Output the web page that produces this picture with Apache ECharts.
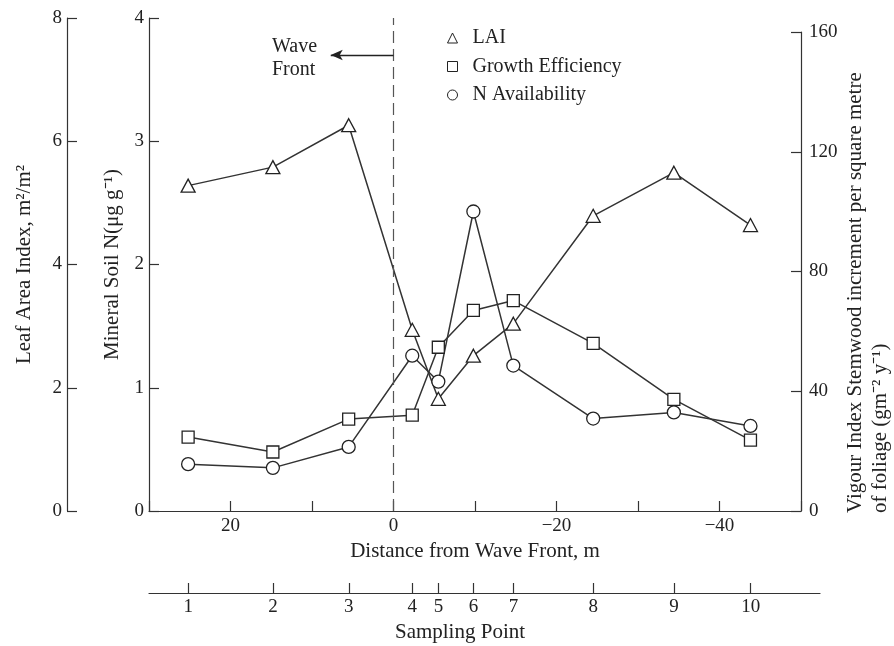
<!DOCTYPE html>
<html><head><meta charset="utf-8">
<script src="https://cdn.jsdelivr.net/npm/echarts@6/dist/echarts.min.js"></script>
<style>html,body{margin:0;padding:0;background:#fff}#c{width:894px;height:646px}</style>
</head><body><div id="c"></div>
<script>
// ---- data ----
const samplingPoints = [1, 2, 3, 4, 5, 6, 7, 8, 9, 10];
const distance = [25.2, 14.8, 5.5, -2.3, -5.5, -9.8, -14.7, -24.5, -34.4, -43.8];
const lai = [5.28, 5.58, 6.26, 2.94, 1.82, 2.52, 3.04, 4.79, 5.49, 4.64];
const growthEfficiency = [24.7, 19.7, 30.7, 32.0, 54.7, 67.0, 70.3, 56.0, 37.3, 23.7];
const nAvailability = [0.38, 0.35, 0.52, 1.26, 1.05, 2.43, 1.18, 0.75, 0.80, 0.69];
const distanceTickLabels = [20, 0, -20, -40];
const waveFrontArrow = { y: 3.70, from: 0, to: 7.7 };

const FONT = '"Liberation Serif", "Times New Roman", serif';
const INK = '#222';
const LINE = '#333';

const pairs = (ys) => distance.map((d, i) => [d, ys[i]]);
const minus = (v) => String(v).replace('-', '\u2212');

const axisLineStyle = { show: true, onZero: false, lineStyle: { color: LINE, width: 1.2 } };
const tickStyle = { inside: true, length: 10, lineStyle: { color: LINE, width: 1.2 } };
const labelStyle = { color: INK, fontFamily: FONT, fontSize: 19 };
const nameStyle = { color: INK, fontFamily: FONT, fontSize: 21 };

const markerStyle = { color: '#fff', borderColor: INK, borderWidth: 1.3 };
const seriesLine = { color: LINE, width: 1.5 };

const chart = echarts.init(document.getElementById('c'), null, { renderer: 'canvas' });
chart.setOption({
  animation: false,
  backgroundColor: '#fff',
  grid: [
    { left: 149, right: 93, top: 18, bottom: 135 },
    { left: 149, right: 93, top: 32, bottom: 135 },
    { left: 149, right: 74, top: 583, bottom: 53 }
  ],
  xAxis: [
    {
      gridIndex: 0, type: 'value', min: -50, max: 30, interval: 10, inverse: true,
      axisLine: axisLineStyle, axisTick: tickStyle, splitLine: { show: false },
      axisLabel: Object.assign({ margin: 6, formatter: (v) => distanceTickLabels.includes(v) ? minus(v) : '' }, labelStyle),
      name: 'Distance from Wave Front, m', nameLocation: 'middle', nameGap: 29, nameTextStyle: nameStyle
    },
    { gridIndex: 1, type: 'value', min: -50, max: 30, inverse: true, show: false },
    {
      gridIndex: 2, type: 'value', min: -52.3, max: 30, inverse: true,
      axisLine: axisLineStyle, splitLine: { show: false },
      axisTick: Object.assign({ customValues: distance }, tickStyle),
      axisLabel: Object.assign({ margin: 5, customValues: distance,
        formatter: (v) => { const i = distance.indexOf(v); return i >= 0 ? String(samplingPoints[i]) : ''; } }, labelStyle),
      name: 'Sampling Point', nameLocation: 'middle', nameGap: 29,
      nameTextStyle: Object.assign({ padding: [0, 49, 0, 0] }, nameStyle)
    }
  ],
  yAxis: [
    {
      gridIndex: 0, type: 'value', position: 'left', offset: 82, min: 0, max: 8, interval: 2,
      axisLine: axisLineStyle, axisTick: tickStyle, splitLine: { show: false },
      axisLabel: Object.assign({ margin: 5 }, labelStyle),
      name: 'Leaf Area Index, m\u00b2/m\u00b2', nameLocation: 'middle', nameGap: 32, nameTextStyle: nameStyle
    },
    {
      gridIndex: 0, type: 'value', position: 'left', min: 0, max: 4, interval: 1,
      axisLine: axisLineStyle, axisTick: tickStyle, splitLine: { show: false },
      axisLabel: Object.assign({ margin: 5 }, labelStyle),
      name: 'Mineral Soil N(\u03bcg g\u207b\u00b9)', nameLocation: 'middle', nameGap: 26, nameTextStyle: nameStyle
    },
    {
      gridIndex: 1, type: 'value', position: 'right', min: 0, max: 160, interval: 40,
      axisLine: axisLineStyle, axisTick: tickStyle, splitLine: { show: false },
      axisLabel: Object.assign({ margin: 8 }, labelStyle)
    },
    { gridIndex: 2, type: 'value', show: false, min: 0, max: 1 }
  ],
  legend: {
    orient: 'vertical', left: 442, top: 23, itemWidth: 10, itemHeight: 10, itemGap: 8.5,
    textStyle: { color: INK, fontFamily: FONT, fontSize: 20, lineHeight: 20, padding: [0, 0, 0, 10] },
    data: [
      { name: 'LAI', icon: 'triangle' },
      { name: 'Growth Efficiency', icon: 'rect' },
      { name: 'N Availability', icon: 'circle' }
    ],
    itemStyle: { color: '#fff', borderColor: INK, borderWidth: 1 }
  },
  graphic: [
    { type: 'text', x: 272, y: 35, silent: true,
      style: { text: 'Wave\nFront', font: '20px ' + FONT, fill: INK, lineHeight: 23, textAlign: 'left', align: 'left' } },
    { type: 'text', x: 855, y: 513, rotation: Math.PI / 2, silent: true,
      style: { text: 'Vigour Index Stemwood increment per square metre', font: '21px ' + FONT, fill: INK,
        textAlign: 'left', align: 'left', textVerticalAlign: 'middle', verticalAlign: 'middle' } },
    { type: 'text', x: 880, y: 513, rotation: Math.PI / 2, silent: true,
      style: { text: 'of foliage (gm\u207b\u00b2 y\u207b\u00b9)', font: '21px ' + FONT, fill: INK,
        textAlign: 'left', align: 'left', textVerticalAlign: 'middle', verticalAlign: 'middle' } }
  ],
  series: [
    {
      name: 'LAI', type: 'line', xAxisIndex: 0, yAxisIndex: 0, data: pairs(lai),
      symbol: 'triangle', symbolSize: [14, 13], showAllSymbol: true,
      itemStyle: markerStyle, lineStyle: seriesLine, z: 3
    },
    {
      name: 'Growth Efficiency', type: 'line', xAxisIndex: 1, yAxisIndex: 2, data: pairs(growthEfficiency),
      symbol: 'rect', symbolSize: 12, showAllSymbol: true,
      itemStyle: markerStyle, lineStyle: seriesLine, z: 3
    },
    {
      name: 'N Availability', type: 'line', xAxisIndex: 0, yAxisIndex: 1, data: pairs(nAvailability),
      symbol: 'circle', symbolSize: 13, showAllSymbol: true,
      itemStyle: markerStyle, lineStyle: seriesLine, z: 3,
      markLine: {
        silent: true, animation: false, label: { show: false },
        symbol: ['none', 'none'],
        data: [
          { xAxis: 0, lineStyle: { type: [12, 6], color: '#555', width: 1.2 } },
          [
            { coord: [waveFrontArrow.from, waveFrontArrow.y] },
            { coord: [waveFrontArrow.to, waveFrontArrow.y], symbol: 'arrow', symbolSize: [8, 12] }
          ]
        ],
        lineStyle: { type: 'solid', color: INK, width: 1.3 }
      }
    }
  ]
});
</script></body></html>
